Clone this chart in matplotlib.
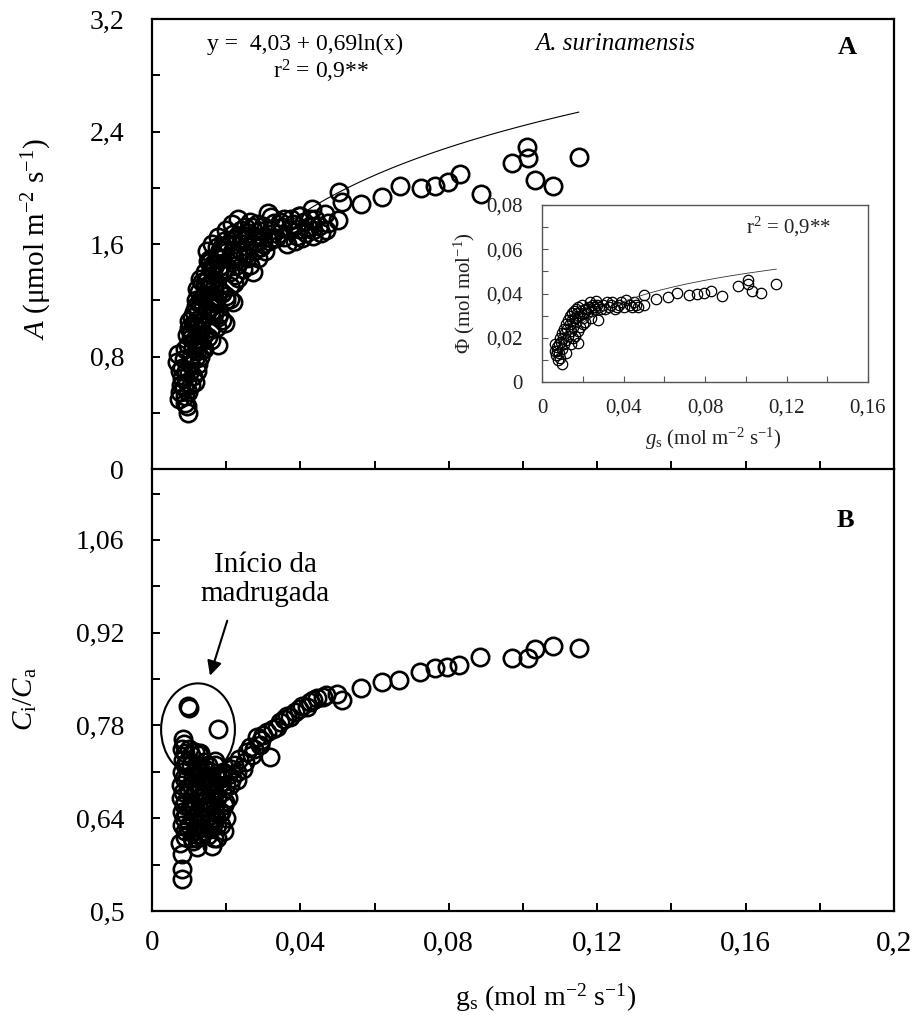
import numpy as np
import matplotlib
matplotlib.use("Agg")
import matplotlib.pyplot as plt
from matplotlib.patches import Ellipse

plt.rcParams['font.family'] = ['Liberation Serif', 'DejaVu Serif']
plt.rcParams['mathtext.fontset'] = 'custom'
plt.rcParams['mathtext.rm'] = 'Liberation Serif'
plt.rcParams['mathtext.it'] = 'Liberation Serif:italic'
plt.rcParams['mathtext.bf'] = 'Liberation Serif:bold'

# ---- panel A: net assimilation vs stomatal conductance ----
gs_a_low = [0.0072, 0.0075, 0.0078, 0.0080, 0.0076, 0.0082, 0.0085, 0.0088, 0.0090, 0.0093,
            0.0098, 0.0095, 0.0100, 0.0102, 0.0105, 0.0071, 0.0067, 0.0110, 0.0112, 0.0098,
            0.0092, 0.0086, 0.0090, 0.0104, 0.0110, 0.0115, 0.0120, 0.0125, 0.0130, 0.0098,
            0.0115, 0.0120, 0.0140, 0.0125, 0.0130]
a_low = [0.50, 0.55, 0.60, 0.65, 0.70, 0.72, 0.58, 0.52, 0.47, 0.45,
         0.40, 0.62, 0.68, 0.75, 0.80, 0.82, 0.76, 0.86, 0.92, 0.88,
         0.70, 0.78, 0.85, 0.60, 0.66, 0.78, 0.84, 0.90, 0.95, 0.55,
         0.62, 0.70, 0.85, 0.75, 0.80]

gs_a_mid = [0.0105, 0.0115, 0.0120, 0.0108, 0.0125, 0.0118, 0.0130, 0.0135, 0.0128, 0.0140,
            0.0145, 0.0135, 0.0150, 0.0142, 0.0158, 0.0165, 0.0155, 0.0170, 0.0100, 0.0112,
            0.0122, 0.0135, 0.0145, 0.0155, 0.0165, 0.0174, 0.0179, 0.0160, 0.0180, 0.0200,
            0.0210, 0.0190, 0.0220, 0.0170, 0.0150, 0.0160, 0.0180, 0.0190]
a_mid = [0.97, 1.02, 1.06, 1.08, 1.12, 1.16, 1.20, 1.18, 1.26, 1.24,
         1.30, 1.33, 1.36, 1.40, 1.42, 1.38, 1.47, 1.45, 1.00, 1.12,
         1.28, 1.05, 1.10, 1.15, 1.22, 1.01, 0.88, 1.00, 1.10, 1.20,
         1.30, 1.25, 1.32, 1.18, 1.28, 1.32, 1.40, 1.45]

gs_a_high = [0.0175, 0.0156, 0.0183, 0.0185, 0.0190, 0.0195, 0.0205, 0.0218, 0.0225, 0.0230,
             0.0233, 0.0240, 0.0245, 0.0250, 0.0258, 0.0264, 0.0270, 0.0275, 0.0282, 0.0290,
             0.0300, 0.0314, 0.0320, 0.0330, 0.0340, 0.0350, 0.0363, 0.0370, 0.0380, 0.0395,
             0.0410, 0.0420, 0.0430, 0.0434, 0.0440, 0.0450, 0.0466, 0.0475, 0.0502, 0.0220,
             0.0240, 0.0260, 0.0273, 0.0280, 0.0300, 0.0320, 0.0148, 0.0163, 0.0178, 0.0200,
             0.0215, 0.0233, 0.0255, 0.0300, 0.0320, 0.0345, 0.0390, 0.0400, 0.0230, 0.0250]
a_high = [1.50, 1.49, 1.56, 1.49, 1.58, 1.62, 1.60, 1.67, 1.60, 1.66,
          1.36, 1.70, 1.63, 1.72, 1.68, 1.76, 1.72, 1.66, 1.74, 1.69,
          1.73, 1.82, 1.70, 1.75, 1.67, 1.72, 1.60, 1.70, 1.74, 1.71,
          1.76, 1.72, 1.85, 1.66, 1.78, 1.73, 1.81, 1.75, 1.77, 1.50,
          1.55, 1.58, 1.40, 1.62, 1.60, 1.64, 1.55, 1.60, 1.65, 1.70,
          1.74, 1.78, 1.66, 1.64, 1.79, 1.76, 1.66, 1.80, 1.45, 1.52]

gs_a_fill = [0.0095, 0.0105, 0.0115, 0.0125, 0.0135,
             0.0100, 0.0110, 0.0120, 0.0130, 0.0140, 0.0150, 0.0160,
             0.0118, 0.0128, 0.0138, 0.0148, 0.0158, 0.0168, 0.0178, 0.0188, 0.0198,
             0.0130, 0.0142, 0.0155, 0.0168, 0.0180, 0.0190, 0.0200, 0.0210, 0.0218,
             0.0150, 0.0165, 0.0180, 0.0195, 0.0210, 0.0225, 0.0245, 0.0265, 0.0285, 0.0305,
             0.0175, 0.0195, 0.0215, 0.0235, 0.0255, 0.0275, 0.0295, 0.0315, 0.0335, 0.0355,
             0.0355, 0.0375, 0.0395, 0.0415, 0.0435, 0.0455, 0.0470,
             0.0385, 0.0405, 0.0425]
a_fill = [0.95, 0.93, 0.90, 0.88, 0.85,
          1.05, 1.03, 1.00, 0.98, 0.96, 0.94, 0.92,
          1.20, 1.18, 1.16, 1.14, 1.12, 1.10, 1.08, 1.06, 1.04,
          1.35, 1.33, 1.31, 1.29, 1.27, 1.25, 1.23, 1.21, 1.19,
          1.48, 1.46, 1.44, 1.42, 1.40, 1.38, 1.42, 1.45, 1.50, 1.55,
          1.58, 1.56, 1.54, 1.52, 1.50, 1.55, 1.58, 1.62, 1.64, 1.65,
          1.78, 1.78, 1.80, 1.68, 1.70, 1.68, 1.70,
          1.62, 1.64, 1.78]

gs_a_sparse = [0.0505, 0.0511, 0.0563, 0.0619, 0.0668, 0.0725, 0.0763, 0.0799, 0.0830, 0.0887,
               0.0970, 0.1010, 0.1013, 0.1031, 0.1082, 0.1152]
a_sparse = [1.968, 1.897, 1.887, 1.935, 2.016, 2.000, 2.010, 2.040, 2.096, 1.957,
            2.177, 2.291, 2.213, 2.058, 2.016, 2.220]

# fitted curve y = a + b ln(x)
fit_a, fit_b = 4.03, 0.69
fit_range = (0.008, 0.115)

# ---- inset: quantum efficiency ----
gs_phi = [0.0063, 0.0065, 0.0070, 0.0075, 0.0080, 0.0085, 0.0090, 0.0096, 0.0095, 0.0100,
          0.0105, 0.0110, 0.0115, 0.0120, 0.0125, 0.0130, 0.0135, 0.0140, 0.0145, 0.0150,
          0.0160, 0.0165, 0.0170, 0.0177, 0.0180, 0.0190, 0.0200, 0.0210, 0.0220, 0.0230,
          0.0240, 0.0250, 0.0260, 0.0267, 0.0275, 0.0280, 0.0300, 0.0310, 0.0330, 0.0345,
          0.0360, 0.0380, 0.0400, 0.0414, 0.0430, 0.0450, 0.0470, 0.0120, 0.0140, 0.0160,
          0.0185, 0.0210, 0.0240,
          0.0499, 0.0499, 0.0561, 0.0618, 0.0664, 0.0721, 0.0761, 0.0793, 0.0829, 0.0882,
          0.0963, 0.1009, 0.1009, 0.1029, 0.1074, 0.1148]
phi = [0.017, 0.014, 0.012, 0.016, 0.010, 0.013, 0.011, 0.008, 0.018, 0.015,
       0.020, 0.017, 0.022, 0.019, 0.024, 0.021, 0.026, 0.023, 0.028, 0.025,
       0.029, 0.027, 0.031, 0.0177, 0.030, 0.032, 0.029, 0.033, 0.031, 0.034,
       0.032, 0.035, 0.033, 0.0366, 0.028, 0.034, 0.035, 0.033, 0.034, 0.036,
       0.033, 0.035, 0.034, 0.037, 0.035, 0.036, 0.034, 0.013, 0.017, 0.021,
       0.025, 0.027, 0.029,
       0.0395, 0.0350, 0.0375, 0.0384, 0.0402, 0.0395, 0.0400, 0.0402, 0.0413, 0.0390,
       0.0436, 0.0460, 0.0445, 0.0410, 0.0402, 0.0443]
gs_phi_fill = [0.0072, 0.0082, 0.0088, 0.0098, 0.0108, 0.0118, 0.0128, 0.0138, 0.0148, 0.0158,
               0.0168, 0.0178, 0.0195, 0.0205, 0.0225, 0.0235, 0.0255, 0.0270, 0.0290, 0.0320,
               0.0340, 0.0370, 0.0390, 0.0440, 0.0460, 0.0150, 0.0175, 0.0200]
phi_fill = [0.014, 0.017, 0.020, 0.022, 0.024, 0.026, 0.028, 0.030, 0.031, 0.032,
            0.033, 0.034, 0.035, 0.031, 0.033, 0.036, 0.034, 0.035, 0.033, 0.036,
            0.035, 0.034, 0.036, 0.034, 0.035, 0.020, 0.023, 0.026]
fit_phi_a, fit_phi_b = 0.0810, 0.01387

# ---- panel B: Ci/Ca ----
gs_c_low = [0.0080, 0.0080, 0.0080, 0.0075, 0.0120, 0.0161, 0.0084, 0.0086, 0.0082, 0.0088,
            0.0084, 0.0090, 0.0080, 0.0085, 0.0078, 0.0083, 0.0079, 0.0085, 0.0080, 0.0086,
            0.0082, 0.0088, 0.0090, 0.0110, 0.0098, 0.0100, 0.0179]
cc_low = [0.564, 0.548, 0.586, 0.603, 0.597, 0.598, 0.760, 0.752, 0.745, 0.738,
          0.728, 0.720, 0.710, 0.700, 0.690, 0.680, 0.670, 0.660, 0.650, 0.640,
          0.630, 0.620, 0.612, 0.605, 0.810, 0.806, 0.775]

gs_c_mid = [0.0095, 0.0100, 0.0105, 0.0110, 0.0115, 0.0100, 0.0120, 0.0125, 0.0130, 0.0135,
            0.0120, 0.0128, 0.0140, 0.0150, 0.0155, 0.0160, 0.0145, 0.0140, 0.0150, 0.0165,
            0.0170, 0.0175, 0.0180, 0.0185, 0.0190, 0.0195, 0.0200, 0.0205, 0.0210, 0.0215,
            0.0110, 0.0105, 0.0115, 0.0125, 0.0135, 0.0140, 0.0160, 0.0170, 0.0195, 0.0185,
            0.0175, 0.0130, 0.0150, 0.0120, 0.0165, 0.0145, 0.0100, 0.0115, 0.0135, 0.0155,
            0.0090, 0.0129, 0.0170]
cc_mid = [0.700, 0.680, 0.660, 0.640, 0.620, 0.630, 0.650, 0.670, 0.690, 0.710,
          0.720, 0.735, 0.725, 0.700, 0.680, 0.660, 0.640, 0.620, 0.615, 0.630,
          0.650, 0.670, 0.690, 0.705, 0.680, 0.660, 0.640, 0.670, 0.690, 0.700,
          0.700, 0.720, 0.680, 0.630, 0.655, 0.680, 0.710, 0.720, 0.620, 0.630,
          0.610, 0.640, 0.655, 0.610, 0.690, 0.700, 0.745, 0.740, 0.615, 0.625,
          0.665, 0.739, 0.727]

gs_c_fill = [0.0092, 0.0098, 0.0104, 0.0112, 0.0118, 0.0124, 0.0132, 0.0138, 0.0146, 0.0152,
             0.0158, 0.0166, 0.0172, 0.0178, 0.0186, 0.0192, 0.0200,
             0.0094, 0.0102, 0.0108, 0.0116, 0.0122, 0.0130, 0.0138, 0.0144, 0.0152, 0.0160,
             0.0168, 0.0176, 0.0182, 0.0190, 0.0198, 0.0206, 0.0212,
             0.0096, 0.0104, 0.0112, 0.0120, 0.0128, 0.0136, 0.0144, 0.0152, 0.0162, 0.0170]
cc_fill = [0.645, 0.625, 0.690, 0.660, 0.700, 0.615, 0.665, 0.700, 0.655, 0.635,
           0.690, 0.610, 0.640, 0.700, 0.650, 0.710, 0.690,
           0.725, 0.655, 0.610, 0.710, 0.690, 0.625, 0.675, 0.715, 0.690, 0.645,
           0.675, 0.630, 0.650, 0.700, 0.665, 0.705, 0.715,
           0.685, 0.735, 0.655, 0.705, 0.710, 0.640, 0.665, 0.720, 0.695, 0.660]

gs_c_high = [0.0220, 0.0228, 0.0235, 0.0245, 0.0255, 0.0264, 0.0270, 0.0282, 0.0290, 0.0300,
             0.0310, 0.0318, 0.0325, 0.0336, 0.0345, 0.0355, 0.0365, 0.0372, 0.0385, 0.0395,
             0.0405, 0.0417, 0.0425, 0.0435, 0.0445, 0.0462, 0.0470, 0.0498, 0.0511, 0.0230,
             0.0250, 0.0275, 0.0295,
             0.0563, 0.0619, 0.0667, 0.0722, 0.0763, 0.0794, 0.0828, 0.0884, 0.0970, 0.1013,
             0.1032, 0.1082, 0.1151]
cc_high = [0.720, 0.697, 0.730, 0.715, 0.740, 0.747, 0.735, 0.762, 0.750, 0.765,
           0.770, 0.732, 0.775, 0.777, 0.785, 0.790, 0.795, 0.793, 0.800, 0.805,
           0.810, 0.808, 0.815, 0.818, 0.822, 0.823, 0.826, 0.828, 0.818, 0.710,
           0.725, 0.745, 0.758,
           0.836, 0.846, 0.849, 0.861, 0.866, 0.868, 0.871, 0.884, 0.882, 0.882,
           0.896, 0.900, 0.897]

x_ticks = [0, 0.04, 0.08, 0.12, 0.16, 0.2]
x_labels = ['0', '0,04', '0,08', '0,12', '0,16', '0,2']
a_ticks = [0, 0.8, 1.6, 2.4, 3.2]
a_labels = ['0', '0,8', '1,6', '2,4', '3,2']
c_ticks = [0.5, 0.64, 0.78, 0.92, 1.06]
c_labels = ['0,5', '0,64', '0,78', '0,92', '1,06']
in_x_ticks = [0, 0.04, 0.08, 0.12, 0.16]
in_x_labels = ['0', '0,04', '0,08', '0,12', '0,16']
in_y_ticks = [0, 0.02, 0.04, 0.06, 0.08]
in_y_labels = ['0', '0,02', '0,04', '0,06', '0,08']

W, H = 915, 1016
fig = plt.figure(figsize=(W / 100, H / 100), dpi=100)


def frac(left, top, right, bottom):
    return [left / W, 1 - bottom / H, (right - left) / W, (bottom - top) / H]


ax_a = fig.add_axes(frac(152, 19, 894, 469))
ax_c = fig.add_axes(frac(152, 469, 894, 911))
ax_in = fig.add_axes(frac(542, 205, 868, 382))

circ = dict(ls='none', marker='o', mfc='none', mec='black', ms=12.5, mew=1.9)

for gx, gy in [(gs_a_low, a_low), (gs_a_mid, a_mid), (gs_a_fill, a_fill),
               (gs_a_high, a_high), (gs_a_sparse, a_sparse)]:
    ax_a.plot(gx, gy, **circ)
xf = np.linspace(fit_range[0], fit_range[1], 200)
ax_a.plot(xf, fit_a + fit_b * np.log(xf), color='black', lw=0.8)

for gx, gy in [(gs_c_low, cc_low), (gs_c_mid, cc_mid), (gs_c_fill, cc_fill), (gs_c_high, cc_high)]:
    ax_c.plot(gx, gy, **circ)

inset_circ = dict(ls='none', marker='o', mfc='none', mec='black', ms=7.5, mew=0.9)
ax_in.plot(gs_phi, phi, **inset_circ)
ax_in.plot(gs_phi_fill, phi_fill, **inset_circ)
ax_in.plot(xf, fit_phi_a + fit_phi_b * np.log(xf), color='#333333', lw=0.6)

# axes styling
for ax in (ax_a, ax_c):
    ax.set_xlim(0, 0.2)
    for s in ax.spines.values():
        s.set_linewidth(1.6)
    ax.set_xticks(np.arange(0, 0.201, 0.02))
    ax.tick_params(axis='both', which='both', direction='in', length=6, width=1.4,
                   top=False, right=False)

ax_a.set_ylim(0, 3.2)
ax_a.set_yticks(a_ticks)
ax_a.set_yticklabels(a_labels, fontsize=20)
ax_a.set_yticks([0.4, 1.2, 2.0, 2.8], minor=True)
ax_a.tick_params(axis='y', pad=20)
ax_a.set_xticklabels([])
ax_a.spines['bottom'].set_visible(False)

ax_c.set_ylim(0.5, 1.167)
ax_c.set_yticks(c_ticks)
ax_c.set_yticklabels(c_labels, fontsize=20)
ax_c.set_yticks([0.57, 0.71, 0.85, 0.99, 1.13], minor=True)
ax_c.tick_params(axis='y', pad=20)
ax_c.set_xticks(x_ticks)
ax_c.set_xticklabels(x_labels, fontsize=21)
ax_c.set_xticks([0.02, 0.06, 0.1, 0.14, 0.18], minor=True)
ax_c.tick_params(axis='x', pad=14)

ax_a.set_ylabel(r'$A$ ($\mathrm{\mu}$mol m$^{\mathrm{-2}}$ s$^{\mathrm{-1}}$)', fontsize=21)
ax_a.yaxis.set_label_coords(-0.132, 0.51)
ax_c.set_ylabel(r'$C_{\mathrm{i}}/C_{\mathrm{a}}$', fontsize=21)
ax_c.yaxis.set_label_coords(-0.152, 0.48)
ax_c.set_xlabel(r'g$_{\mathrm{s}}$ (mol m$^{\mathrm{-2}}$ s$^{\mathrm{-1}}$)', fontsize=20)
ax_c.xaxis.set_label_coords(0.53, -0.16)

# inset
ax_in.set_xlim(0, 0.16)
ax_in.set_ylim(0, 0.08)
for s in ax_in.spines.values():
    s.set_linewidth(1.0)
    s.set_color('#555555')
ax_in.set_xticks(in_x_ticks)
ax_in.set_xticklabels(in_x_labels, fontsize=15)
ax_in.set_xticks([0.02, 0.06, 0.1, 0.14], minor=True)
ax_in.set_yticks(in_y_ticks)
ax_in.set_yticklabels(in_y_labels, fontsize=15)
ax_in.set_yticks([0.01, 0.03, 0.05, 0.07], minor=True)
ax_in.tick_params(axis='both', which='both', direction='in', length=4, width=0.8,
                  color='#555555', labelcolor='#222222')
ax_in.tick_params(axis='x', pad=12)
ax_in.tick_params(axis='y', pad=14)
ax_in.set_ylabel(r'$\Phi$ (mol mol$^{\mathrm{-1}}$)', fontsize=15, color='#222222')
ax_in.yaxis.set_label_coords(-0.2, 0.5)
ax_in.set_xlabel(r'$g_{\mathrm{s}}$ (mol m$^{\mathrm{-2}}$ s$^{\mathrm{-1}}$)', fontsize=15, color='#222222')
ax_in.xaxis.set_label_coords(0.525, -0.25)
ax_in.text(0.121, 0.070, r'r$^{\mathrm{2}}$ = 0,9**', fontsize=15, ha='center', va='center', color='#222222')

# annotations panel A
ax_a.text(0.0412, 3.02, 'y =  4,03 + 0,69ln(x)', fontsize=17, ha='center', va='center')
ax_a.text(0.0455, 2.83, r'r$^{\mathrm{2}}$ = 0,9**', fontsize=17, ha='center', va='center')
ax_a.text(0.1248, 3.02, 'A. surinamensis', fontsize=18, style='italic', ha='center', va='center')
ax_a.text(0.1873, 3.0, 'A', fontsize=19, weight='bold', ha='center', va='center')

# annotations panel B
ax_c.text(0.1868, 1.09, 'B', fontsize=19, weight='bold', ha='center', va='center')
ax_c.text(0.0305, 1.0, 'Início da\nmadrugada', fontsize=21, ha='center', va='center',
          linespacing=1.15)
ax_c.add_patch(Ellipse((0.0124, 0.774), 0.0199, 0.139, fill=False, ec='black', lw=1.5))
ax_c.annotate('', xy=(0.0154, 0.851), xytext=(0.0205, 0.942),
              arrowprops=dict(arrowstyle='-|>', color='black', lw=1.5, mutation_scale=22))

fig.savefig('out.png', dpi=100)
